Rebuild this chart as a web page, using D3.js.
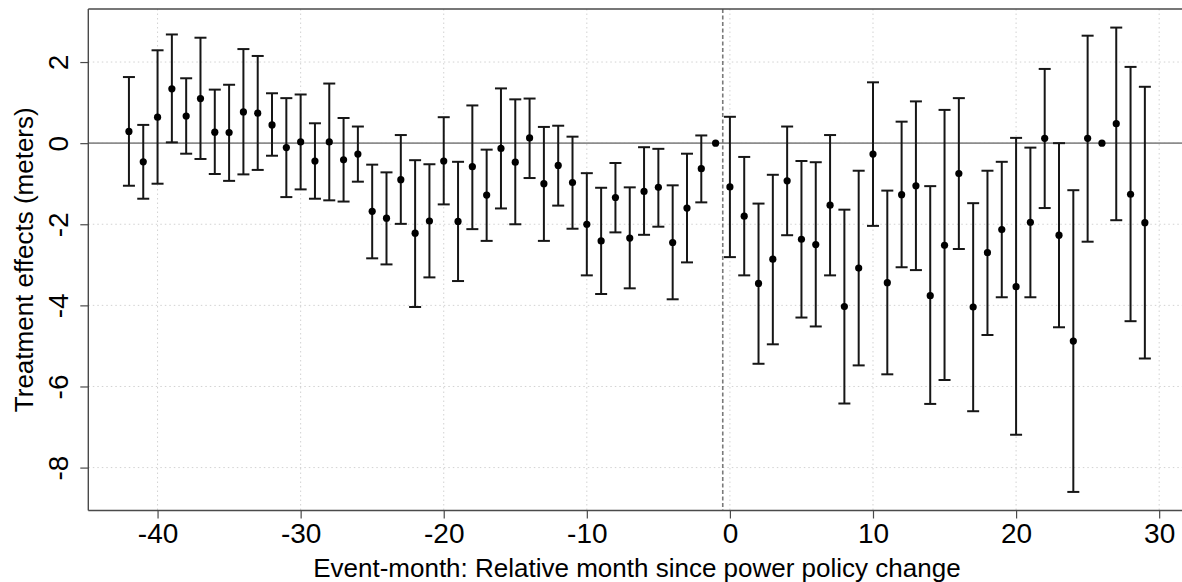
<!DOCTYPE html>
<html>
<head>
<meta charset="utf-8">
<script src="https://cdn.jsdelivr.net/npm/d3@7"></script>
<style>
  html, body { margin: 0; padding: 0; background: #fff; }
  svg { display: block; font-family: "Liberation Sans", Arial, Helvetica, sans-serif; }
</style>
</head>
<body>
<svg id="chart" width="1182" height="582"></svg>
<script>
// ---- data ----
const months = d3.range(-42, 30);
const estimates = [
  0.29, -0.46, 0.64, 1.34, 0.67, 1.10, 0.27, 0.26, 0.77, 0.74,
  0.45, -0.11, 0.03, -0.44, 0.03, -0.41, -0.27, -1.68, -1.85, -0.90,
  -2.22, -1.92, -0.44, -1.93, -0.58, -1.28, -0.13, -0.47, 0.13, -1.00,
  -0.55, -0.97, -2.00, -2.41, -1.34, -2.34, -1.19, -1.09, -2.45, -1.60,
  -0.63, 0.00,
  -1.08, -1.80, -3.46, -2.86, -0.93, -2.37, -2.50, -1.53, -4.03, -3.08,
  -0.27, -3.44, -1.27, -1.05, -3.76, -2.52, -0.75, -4.04, -2.70, -2.13,
  -3.54, -1.95, 0.12, -2.27, -4.88, 0.12, 0.00, 0.48, -1.26, -1.96
];
const lower = [
  -1.05, -1.37, -1.00, 0.02, -0.26, -0.39, -0.76, -0.93, -0.77, -0.66,
  -0.31, -1.33, -1.14, -1.37, -1.41, -1.44, -0.95, -2.84, -2.99, -1.99,
  -4.04, -3.31, -1.51, -3.40, -2.12, -2.41, -1.61, -2.00, -0.86, -2.41,
  -1.54, -2.11, -3.26, -3.72, -2.20, -3.58, -2.26, -2.06, -3.85, -2.94,
  -1.46, null,
  -2.81, -3.26, -5.44, -4.96, -2.27, -4.30, -4.52, -3.26, -6.42, -5.48,
  -2.04, -5.70, -3.06, -3.13, -6.43, -5.84, -2.61, -6.61, -4.73, -3.80,
  -7.19, -3.80, -1.60, -4.54, -8.60, -2.43, null, -1.90, -4.39, -5.31
];
const upper = [
  1.63, 0.45, 2.29, 2.68, 1.60, 2.60, 1.32, 1.44, 2.32, 2.15,
  1.23, 1.11, 1.20, 0.49, 1.47, 0.62, 0.41, -0.53, -0.72, 0.20,
  -0.42, -0.52, 0.64, -0.46, 0.93, -0.16, 1.35, 1.08, 1.10, 0.40,
  0.43, 0.16, -0.74, -1.10, -0.49, -1.09, -0.10, -0.14, -1.04, -0.26,
  0.19, null,
  0.65, -0.34, -1.49, -0.78, 0.41, -0.44, -0.47, 0.20, -1.64, -0.68,
  1.50, -1.17, 0.53, 1.03, -1.06, 0.82, 1.11, -1.48, -0.68, -0.46,
  0.13, -0.11, 1.83, 0.00, -1.16, 2.65, null, 2.85, 1.88, 1.39
];
const xTicks = [-40, -30, -20, -10, 0, 10, 20, 30];
const yTicks = [-8, -6, -4, -2, 0, 2];
const eventLine = -0.5;
const xTitle = "Event-month: Relative month since power policy change";
const yTitle = "Treatment effects (meters)";

// ---- layout ----
const svg = d3.select("#chart");
const pLeft = 88.3, pRight = 1185.5, pTop = 9, pBottom = 510.5;

function padDomain(lo, hi) { const s = hi - lo; return [lo - 0.04 * s, hi + 0.04 * s]; }

const xDom = padDomain(d3.min(months), d3.max(months));
const yDom = padDomain(d3.min(lower.filter(v => v !== null)), d3.max(upper.filter(v => v !== null)));

const x = d3.scaleLinear().domain(xDom).range([pLeft, pRight]);
const y = d3.scaleLinear().domain(yDom).range([pBottom, pTop]);
const fmt = d => String(d); // plain hyphen-minus like the reference

const data = months.map((m, i) => ({ m, est: estimates[i], lo: lower[i], hi: upper[i] }));

// gridlines
const grid = svg.append("g");
grid.selectAll(".gx").data(xTicks).join("line")
  .attr("x1", d => x(d)).attr("x2", d => x(d))
  .attr("y1", pTop).attr("y2", pBottom)
  .attr("stroke", "#d2d2d2").attr("stroke-width", 1).attr("stroke-dasharray", "1.5,3");
grid.selectAll(".gy").data(yTicks).join("line")
  .attr("x1", pLeft).attr("x2", pRight)
  .attr("y1", d => y(d)).attr("y2", d => y(d))
  .attr("stroke", "#d2d2d2").attr("stroke-width", 1).attr("stroke-dasharray", "1.5,3");

// zero line
svg.append("line")
  .attr("x1", pLeft).attr("x2", pRight)
  .attr("y1", y(0)).attr("y2", y(0))
  .attr("stroke", "#8c8c8c").attr("stroke-width", 1.8);

// event line (dashed)
svg.append("line")
  .attr("x1", x(eventLine)).attr("x2", x(eventLine))
  .attr("y1", pTop).attr("y2", pBottom)
  .attr("stroke", "#7a7a7a").attr("stroke-width", 1.6).attr("stroke-dasharray", "4,2.5");

// error bars
const bars = data.filter(d => d.lo !== null && d.hi !== null);
const eb = svg.append("g").attr("stroke", "#161616").attr("stroke-width", 2);
eb.selectAll(".v").data(bars).join("line")
  .attr("x1", d => x(d.m)).attr("x2", d => x(d.m))
  .attr("y1", d => y(d.lo)).attr("y2", d => y(d.hi));
const capW = 6;
eb.selectAll(".ct").data(bars).join("line")
  .attr("x1", d => x(d.m) - capW).attr("x2", d => x(d.m) + capW)
  .attr("y1", d => y(d.hi)).attr("y2", d => y(d.hi));
eb.selectAll(".cb").data(bars).join("line")
  .attr("x1", d => x(d.m) - capW).attr("x2", d => x(d.m) + capW)
  .attr("y1", d => y(d.lo)).attr("y2", d => y(d.lo));

// points
svg.append("g").selectAll("circle").data(data).join("circle")
  .attr("cx", d => x(d.m)).attr("cy", d => y(d.est))
  .attr("r", 3.6).attr("fill", "#000");

// box (top, left, bottom)
const boxColor = "#4a4a4a";
svg.append("line").attr("x1", pLeft).attr("x2", pRight).attr("y1", pTop).attr("y2", pTop)
  .attr("stroke", boxColor).attr("stroke-width", 1.4);

// axes
const xAxis = d3.axisBottom(x).tickValues(xTicks).tickSize(8).tickPadding(4).tickFormat(fmt);
const gx = svg.append("g").attr("transform", `translate(0,${pBottom})`).call(xAxis);
gx.select(".domain").attr("stroke", boxColor).attr("stroke-width", 1.4).attr("d", `M${pLeft},0H${pRight}`);
gx.selectAll(".tick line").attr("stroke", boxColor).attr("stroke-width", 1.2);
gx.selectAll(".tick text").attr("font-size", 28).attr("fill", "#000")
  .attr("font-family", "'Liberation Sans', Arial, sans-serif")
  .attr("dy", null).attr("y", 32);

const yAxis = d3.axisLeft(y).tickValues(yTicks).tickSize(8).tickFormat(fmt);
const gy = svg.append("g").attr("transform", `translate(${pLeft},0)`).call(yAxis);
gy.select(".domain").attr("stroke", boxColor).attr("stroke-width", 1.4).attr("d", `M0,${pTop}V${pBottom}`);
gy.selectAll(".tick line").attr("stroke", boxColor).attr("stroke-width", 1.2);
gy.selectAll(".tick text")
  .attr("font-size", 28).attr("fill", "#000")
  .attr("font-family", "'Liberation Sans', Arial, sans-serif")
  .attr("x", null).attr("dy", null)
  .attr("text-anchor", "middle")
  .attr("transform", "translate(-20,0) rotate(-90)");

// axis titles
svg.append("text")
  .attr("x", (pLeft + pRight) / 2).attr("y", 577)
  .attr("text-anchor", "middle").attr("font-size", 26).attr("fill", "#000")
  .text(xTitle);
svg.append("text")
  .attr("transform", `translate(33,${(pTop + pBottom) / 2}) rotate(-90)`)
  .attr("text-anchor", "middle").attr("font-size", 26).attr("fill", "#000")
  .text(yTitle);
</script>
</body>
</html>
